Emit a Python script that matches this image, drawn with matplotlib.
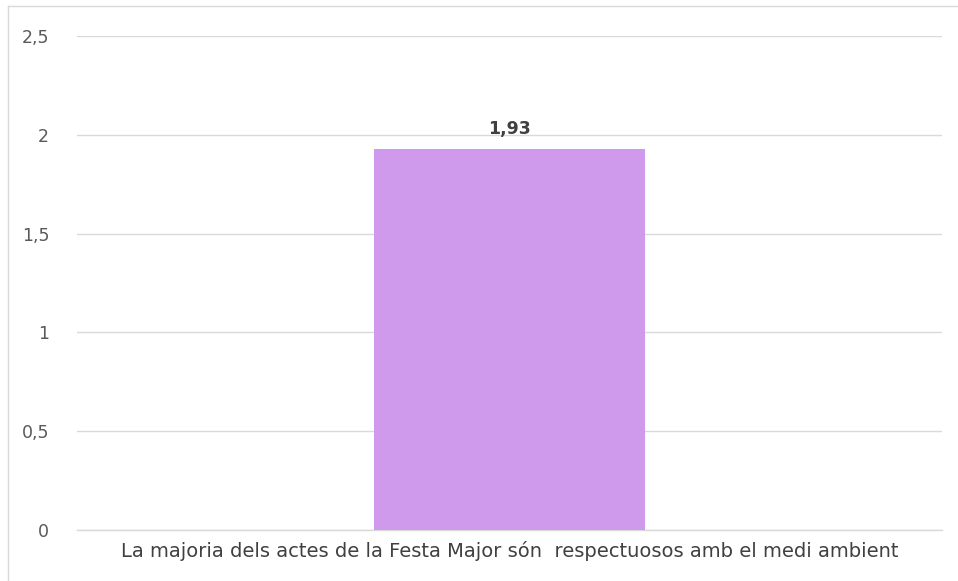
import matplotlib
matplotlib.use("Agg")
import matplotlib.pyplot as plt
from matplotlib.lines import Line2D

# data
categories = ["La majoria dels actes de la Festa Major s\u00f3n  respectuosos amb el medi ambient"]
values = [1.93]
yticks = [0, 0.5, 1, 1.5, 2, 2.5]

plt.rcParams['font.family'] = ['DejaVu Sans']

fig = plt.figure(figsize=(9.58, 5.81), dpi=100, facecolor='white')
ax = fig.add_axes([77 / 958, 51 / 581, 865 / 958, 494 / 581])

x = list(range(len(categories)))
bars = ax.bar(x, values, width=0.313, color='#CF9AEB', zorder=3)

ax.set_xlim(-0.5, 0.5)
ax.set_ylim(0, 2.5)
ax.set_yticks(yticks)
ax.set_yticklabels([('%g' % t).replace('.', ',') for t in yticks],
                   fontsize=12.5, color='#595959')
ax.set_xticks(x)
ax.set_xticklabels(categories, fontsize=14.05, color='#404040')
ax.tick_params(axis='y', length=0, pad=20)
ax.tick_params(axis='x', length=0, pad=8)
ax.grid(axis='y', color='#D9D9D9', linewidth=1, zorder=0)
for s in ['top', 'right', 'left']:
    ax.spines[s].set_visible(False)
ax.spines['bottom'].set_color('#D9D9D9')
ax.spines['bottom'].set_linewidth(1)

for b, v in zip(bars, values):
    ax.annotate(('%.2f' % v).replace('.', ','),
                (b.get_x() + b.get_width() / 2, v),
                xytext=(0, 8), textcoords='offset points',
                ha='center', va='bottom', fontsize=12.5, fontweight='bold',
                color='#404040')

# outer chart border (left and top visible)
fig.add_artist(Line2D([8 / 958, 8 / 958], [0, 1 - 6 / 581], color='#D9D9D9', lw=1))
fig.add_artist(Line2D([8 / 958, 1], [1 - 6 / 581, 1 - 6 / 581], color='#D9D9D9', lw=1))

fig.savefig('out.png', dpi=100, facecolor='white')
